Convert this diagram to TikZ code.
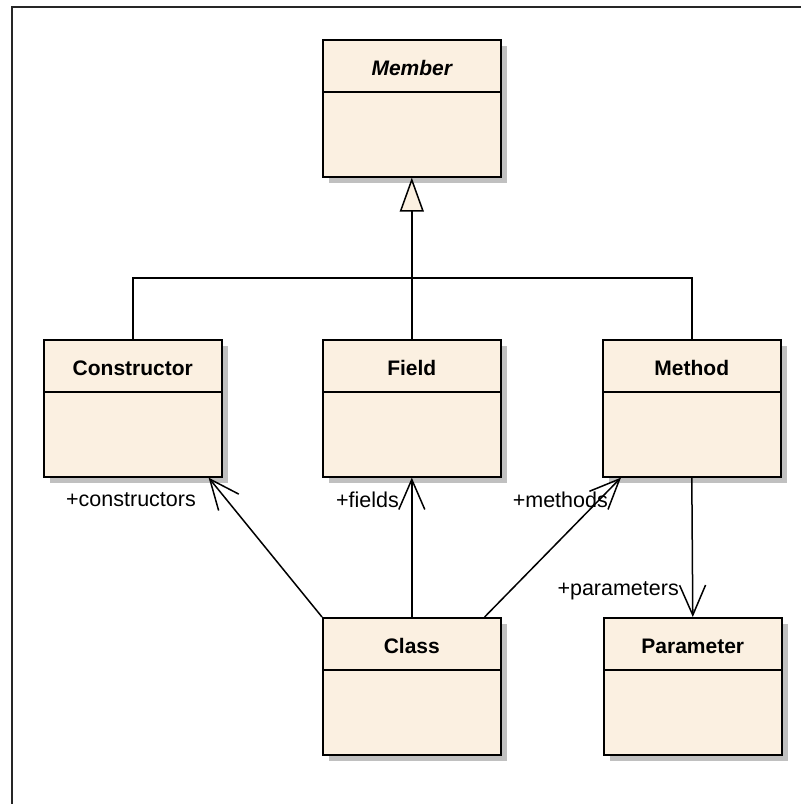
\documentclass[tikz,border=0pt]{standalone}
\usepackage{fontspec}
\setmainfont{Liberation Sans}
\usetikzlibrary{arrows.meta,shadows,calc}
\definecolor{cream}{RGB}{251,240,225}
\definecolor{shadowgray}{RGB}{192,192,192}
\tikzset{
  classbox/.style={draw=black, line width=1.6pt, fill=cream, minimum width=178pt,
    minimum height=137pt, anchor=north west, inner sep=0pt,
    general shadow={fill=shadowgray, shadow xshift=6pt, shadow yshift=-6pt}},
  classname/.style={font=\fontsize{21}{24}\selectfont\bfseries, inner sep=0pt, anchor=base},
  abstractname/.style={font=\fontsize{21}{24}\selectfont\bfseries\itshape, inner sep=0pt, anchor=base},
  rolelabel/.style={font=\fontsize{21.5}{24}\selectfont, inner sep=0pt, anchor=east},
  divider/.style={line width=1.6pt},
  assoc/.style={line width=1.5pt, -{Straight Barb[length=30pt,width=26pt,line width=1.5pt]}},
  gen/.style={line width=1.5pt, -{Triangle[length=34pt,width=24pt,fill=cream,line width=1.5pt]}},
  genline/.style={line width=1.5pt},
  frame/.style={line width=2pt, black!85}
}
\newcommand\umlclass[5]{%
  \node[classbox] (#1) at (#2,#3) {};
  \node[#4] (#1-name) at ($(#1.north)+(0,36)$) {#5};
  \draw[divider] ($(#1.north west)+(0,53)$) -- ($(#1.north east)+(0,53)$);
}
\begin{document}
\begin{tikzpicture}[x=1pt,y=-1pt]
\useasboundingbox (0,0) rectangle (801,804);
\coordinate (frameA) at (801,7);
\coordinate (frameB) at (12,7);
\coordinate (frameC) at (12,804);
\draw[frame] (frameA) -- (frameB) -- (frameC);

\umlclass{member}{322}{39}{abstractname}{Member}
\umlclass{constructor}{43}{339}{classname}{Constructor}
\umlclass{field}{322}{339}{classname}{Field}
\umlclass{method}{602}{339}{classname}{Method}
\umlclass{class}{322}{617}{classname}{Class}
\umlclass{parameter}{603}{617}{classname}{Parameter}

% generalization
\draw[genline] (constructor.north) -- ++(0,-61) -| (method.north);
\draw[gen] (field.north) -- (member.south);

% associations
\draw[assoc] (class.north west) -- ($(constructor.south east)+(-14,0)$);
\draw[assoc] (class.north) -- (field.south);
\draw[assoc] ($(class.north east)+(-17,0)$) -- ($(method.south west)+(19,0)$);
\draw[assoc] (method.south) -- (parameter.north);

% role labels
\node[rolelabel] (l-constructors) at (196,500) {+constructors};
\node[rolelabel] (l-fields) at (399,500) {+fields};
\node[rolelabel] (l-methods) at (608,500) {+methods};
\node[rolelabel] (l-parameters) at (679,591) {+parameters};
\end{tikzpicture}
\end{document}
